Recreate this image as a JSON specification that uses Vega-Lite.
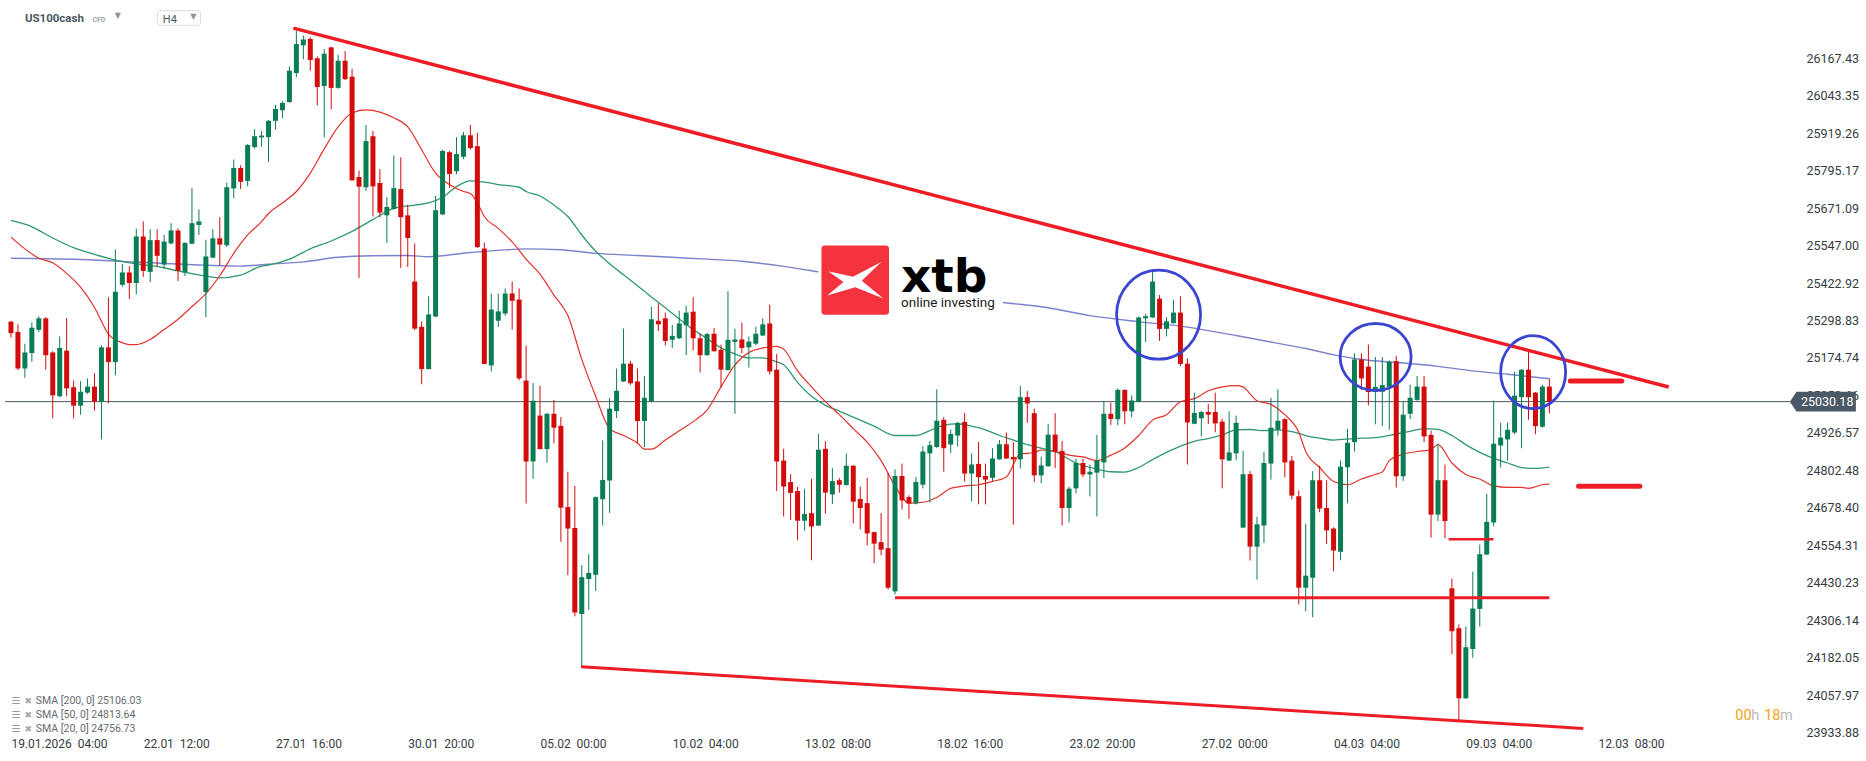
{
"$schema":"https://vega.github.io/schema/vega-lite/v6.json",
"width":1800,"height":735,
"autosize":{"type":"none"},
"padding":{"left":0,"top":0,"right":66,"bottom":26},
"background":"#ffffff",
"config":{"view":{"stroke":null},"font":"Roboto"},
"resolve":{"axis":{"x":"independent","y":"independent"}},
"datasets":{
"candles":[
{"i":0,"o":25295,"h":25297,"l":25242,"c":25257},{"i":1,"o":25261,"h":25286,"l":25135,"c":25140},{"i":2,"o":25140,"h":25222,"l":25109,"c":25193},{"i":3,"o":25191,"h":25292,"l":25162,"c":25275},{"i":4,"o":25268,"h":25313,"l":25261,"c":25306},{"i":5,"o":25306,"h":25310,"l":25136,"c":25184},{"i":6,"o":25193,"h":25197,"l":24975,"c":25051},{"i":7,"o":25048,"h":25246,"l":25045,"c":25208},{"i":8,"o":25199,"h":25307,"l":25048,"c":25074},{"i":9,"o":25078,"h":25100,"l":24975,"c":25017},
{"i":10,"o":25017,"h":25098,"l":24987,"c":25063},{"i":11,"o":25060,"h":25107,"l":25056,"c":25080},{"i":12,"o":25080,"h":25124,"l":25001,"c":25030},{"i":13,"o":25030,"h":25217,"l":24905,"c":25210},{"i":14,"o":25210,"h":25376,"l":25025,"c":25161},{"i":15,"o":25161,"h":25534,"l":25117,"c":25394},{"i":16,"o":25417,"h":25486,"l":25411,"c":25458},{"i":17,"o":25458,"h":25479,"l":25370,"c":25423},{"i":18,"o":25423,"h":25603,"l":25386,"c":25577},{"i":19,"o":25577,"h":25627,"l":25443,"c":25463},
{"i":20,"o":25460,"h":25601,"l":25426,"c":25565},{"i":21,"o":25565,"h":25601,"l":25478,"c":25513},{"i":22,"o":25484,"h":25582,"l":25470,"c":25560},{"i":23,"o":25554,"h":25621,"l":25551,"c":25597},{"i":24,"o":25597,"h":25604,"l":25429,"c":25463},{"i":25,"o":25458,"h":25557,"l":25446,"c":25556},{"i":26,"o":25553,"h":25737,"l":25551,"c":25621},{"i":27,"o":25615,"h":25667,"l":25582,"c":25627},{"i":28,"o":25393,"h":25566,"l":25310,"c":25511},{"i":29,"o":25507,"h":25601,"l":25505,"c":25571},
{"i":30,"o":25571,"h":25641,"l":25482,"c":25550},{"i":31,"o":25548,"h":25755,"l":25542,"c":25740},{"i":32,"o":25736,"h":25832,"l":25704,"c":25804},{"i":33,"o":25804,"h":25813,"l":25734,"c":25758},{"i":34,"o":25761,"h":25883,"l":25743,"c":25880},{"i":35,"o":25873,"h":25932,"l":25868,"c":25909},{"i":36,"o":25905,"h":25926,"l":25874,"c":25911},{"i":37,"o":25906,"h":25963,"l":25824,"c":25960},{"i":38,"o":25960,"h":26013,"l":25931,"c":25999},{"i":39,"o":25995,"h":26025,"l":25969,"c":26019},
{"i":40,"o":26022,"h":26140,"l":26020,"c":26126},{"i":41,"o":26118,"h":26258,"l":26104,"c":26214},{"i":42,"o":26210,"h":26242,"l":26164,"c":26229},{"i":43,"o":26231,"h":26237,"l":26126,"c":26161},{"i":44,"o":26167,"h":26173,"l":26011,"c":26072},{"i":45,"o":26075,"h":26197,"l":25905,"c":26182},{"i":46,"o":26203,"h":26205,"l":25998,"c":26069},{"i":47,"o":26069,"h":26179,"l":26066,"c":26159},{"i":48,"o":26159,"h":26191,"l":26095,"c":26098},{"i":49,"o":26106,"h":26132,"l":25762,"c":25763},
{"i":50,"o":25774,"h":25795,"l":25440,"c":25742},{"i":51,"o":25740,"h":25946,"l":25728,"c":25893},{"i":52,"o":25909,"h":25926,"l":25643,"c":25743},{"i":53,"o":25754,"h":25800,"l":25640,"c":25656},{"i":54,"o":25647,"h":25707,"l":25556,"c":25675},{"i":55,"o":25668,"h":25845,"l":25666,"c":25737},{"i":56,"o":25734,"h":25839,"l":25473,"c":25641},{"i":57,"o":25647,"h":25682,"l":25476,"c":25572},{"i":58,"o":25428,"h":25554,"l":25267,"c":25272},{"i":59,"o":25278,"h":25295,"l":25088,"c":25138},
{"i":60,"o":25138,"h":25379,"l":25137,"c":25319},{"i":61,"o":25312,"h":25711,"l":25310,"c":25664},{"i":62,"o":25650,"h":25864,"l":25649,"c":25860},{"i":63,"o":25856,"h":25860,"l":25738,"c":25784},{"i":64,"o":25793,"h":25906,"l":25783,"c":25850},{"i":65,"o":25841,"h":25923,"l":25833,"c":25912},{"i":66,"o":25912,"h":25946,"l":25865,"c":25870},{"i":67,"o":25876,"h":25920,"l":25539,"c":25542},{"i":68,"o":25537,"h":25557,"l":25154,"c":25155},{"i":69,"o":25150,"h":25388,"l":25130,"c":25335},
{"i":70,"o":25298,"h":25388,"l":25277,"c":25329},{"i":71,"o":25322,"h":25405,"l":25315,"c":25388},{"i":72,"o":25388,"h":25428,"l":25269,"c":25364},{"i":73,"o":25368,"h":25405,"l":25101,"c":25107},{"i":74,"o":25100,"h":25216,"l":24693,"c":24832},{"i":75,"o":24832,"h":25092,"l":24775,"c":25033},{"i":76,"o":24984,"h":25083,"l":24872,"c":24873},{"i":77,"o":24873,"h":24992,"l":24828,"c":24990},{"i":78,"o":24990,"h":25036,"l":24892,"c":24944},{"i":79,"o":24950,"h":24979,"l":24566,"c":24679},
{"i":80,"o":24681,"h":24798,"l":24456,"c":24610},{"i":81,"o":24612,"h":24751,"l":24319,"c":24332},{"i":82,"o":24327,"h":24489,"l":24152,"c":24449},{"i":83,"o":24443,"h":24525,"l":24341,"c":24463},{"i":84,"o":24457,"h":24716,"l":24403,"c":24714},{"i":85,"o":24707,"h":24902,"l":24620,"c":24771},{"i":86,"o":24769,"h":25043,"l":24662,"c":25007},{"i":87,"o":24999,"h":25140,"l":24976,"c":25066},{"i":88,"o":25097,"h":25272,"l":25096,"c":25156},{"i":89,"o":25156,"h":25165,"l":25086,"c":25091},
{"i":90,"o":25097,"h":25140,"l":24892,"c":24966},{"i":91,"o":24966,"h":25115,"l":24879,"c":25043},{"i":92,"o":25030,"h":25344,"l":25028,"c":25303},{"i":93,"o":25298,"h":25356,"l":25264,"c":25286},{"i":94,"o":25306,"h":25325,"l":25216,"c":25231},{"i":95,"o":25235,"h":25284,"l":25208,"c":25248},{"i":96,"o":25240,"h":25331,"l":25237,"c":25289},{"i":97,"o":25283,"h":25348,"l":25184,"c":25325},{"i":98,"o":25328,"h":25376,"l":25200,"c":25240},{"i":99,"o":25240,"h":25255,"l":25127,"c":25184},
{"i":100,"o":25184,"h":25258,"l":25182,"c":25254},{"i":101,"o":25255,"h":25274,"l":25196,"c":25197},{"i":102,"o":25202,"h":25219,"l":25078,"c":25136},{"i":103,"o":25135,"h":25396,"l":25133,"c":25235},{"i":104,"o":25228,"h":25272,"l":24990,"c":25236},{"i":105,"o":25236,"h":25292,"l":25190,"c":25208},{"i":106,"o":25210,"h":25246,"l":25143,"c":25229},{"i":107,"o":25222,"h":25278,"l":25217,"c":25255},{"i":108,"o":25249,"h":25306,"l":25248,"c":25286},{"i":109,"o":25289,"h":25351,"l":25120,"c":25130},
{"i":110,"o":25136,"h":25188,"l":24734,"c":24832},{"i":111,"o":24835,"h":24874,"l":24650,"c":24749},{"i":112,"o":24764,"h":24790,"l":24638,"c":24728},{"i":113,"o":24734,"h":24748,"l":24571,"c":24636},{"i":114,"o":24636,"h":24742,"l":24603,"c":24658},{"i":115,"o":24661,"h":24775,"l":24505,"c":24617},{"i":116,"o":24620,"h":24923,"l":24618,"c":24871},{"i":117,"o":24874,"h":24899,"l":24659,"c":24729},{"i":118,"o":24723,"h":24810,"l":24691,"c":24767},{"i":119,"o":24770,"h":24777,"l":24729,"c":24755},
{"i":120,"o":24754,"h":24859,"l":24752,"c":24818},{"i":121,"o":24818,"h":24820,"l":24627,"c":24699},{"i":122,"o":24708,"h":24749,"l":24607,"c":24678},{"i":123,"o":24694,"h":24778,"l":24554,"c":24594},{"i":124,"o":24598,"h":24600,"l":24495,"c":24560},{"i":125,"o":24565,"h":24661,"l":24522,"c":24540},{"i":126,"o":24545,"h":24795,"l":24408,"c":24414},{"i":127,"o":24402,"h":24806,"l":24392,"c":24784},{"i":128,"o":24784,"h":24825,"l":24673,"c":24703},{"i":129,"o":24714,"h":24720,"l":24642,"c":24693},
{"i":130,"o":24693,"h":24781,"l":24690,"c":24764},{"i":131,"o":24755,"h":24883,"l":24743,"c":24865},{"i":132,"o":24859,"h":24900,"l":24696,"c":24886},{"i":133,"o":24880,"h":25071,"l":24876,"c":24967},{"i":134,"o":24970,"h":24979,"l":24798,"c":24876},{"i":135,"o":24888,"h":24938,"l":24860,"c":24923},{"i":136,"o":24918,"h":24963,"l":24882,"c":24960},{"i":137,"o":24963,"h":24993,"l":24766,"c":24792},{"i":138,"o":24792,"h":24859,"l":24700,"c":24822},{"i":139,"o":24824,"h":24897,"l":24690,"c":24780},
{"i":140,"o":24784,"h":24825,"l":24690,"c":24772},{"i":141,"o":24778,"h":24876,"l":24767,"c":24842},{"i":142,"o":24839,"h":24903,"l":24838,"c":24889},{"i":143,"o":24889,"h":24928,"l":24840,"c":24842},{"i":144,"o":24847,"h":24896,"l":24623,"c":24839},{"i":145,"o":24839,"h":25083,"l":24809,"c":25045},{"i":146,"o":25045,"h":25065,"l":24960,"c":25024},{"i":147,"o":24992,"h":25007,"l":24764,"c":24786},{"i":148,"o":24786,"h":24848,"l":24760,"c":24819},{"i":149,"o":24816,"h":24957,"l":24815,"c":24921},
{"i":150,"o":24921,"h":24992,"l":24810,"c":24864},{"i":151,"o":24867,"h":24900,"l":24620,"c":24678},{"i":152,"o":24678,"h":24748,"l":24630,"c":24742},{"i":153,"o":24743,"h":24841,"l":24726,"c":24827},{"i":154,"o":24827,"h":24841,"l":24780,"c":24789},{"i":155,"o":24789,"h":24822,"l":24716,"c":24798},{"i":156,"o":24795,"h":24920,"l":24650,"c":24835},{"i":157,"o":24829,"h":25033,"l":24777,"c":24990},{"i":158,"o":24990,"h":25027,"l":24953,"c":24973},{"i":159,"o":24972,"h":25074,"l":24952,"c":25069},
{"i":160,"o":25069,"h":25071,"l":24955,"c":24998},{"i":161,"o":24998,"h":25051,"l":24978,"c":25034},{"i":162,"o":25030,"h":25312,"l":25028,"c":25309},{"i":163,"o":25306,"h":25322,"l":25228,"c":25313},{"i":164,"o":25309,"h":25460,"l":25307,"c":25428},{"i":165,"o":25371,"h":25383,"l":25231,"c":25271},{"i":166,"o":25271,"h":25310,"l":25246,"c":25296},{"i":167,"o":25290,"h":25367,"l":25289,"c":25325},{"i":168,"o":25325,"h":25379,"l":25147,"c":25155},{"i":169,"o":25156,"h":25173,"l":24822,"c":24961},
{"i":170,"o":24957,"h":25060,"l":24955,"c":24993},{"i":171,"o":24975,"h":24999,"l":24915,"c":24996},{"i":172,"o":24996,"h":25022,"l":24956,"c":24987},{"i":173,"o":24996,"h":25060,"l":24929,"c":24958},{"i":174,"o":24964,"h":24973,"l":24743,"c":24839},{"i":175,"o":24835,"h":24998,"l":24833,"c":24862},{"i":176,"o":24859,"h":24984,"l":24836,"c":24960},{"i":177,"o":24613,"h":24867,"l":24612,"c":24790},{"i":178,"o":24790,"h":24800,"l":24504,"c":24550},{"i":179,"o":24550,"h":24649,"l":24441,"c":24624},
{"i":180,"o":24620,"h":24864,"l":24562,"c":24827},{"i":181,"o":24825,"h":25043,"l":24772,"c":24944},{"i":182,"o":24937,"h":25071,"l":24918,"c":24967},{"i":183,"o":24972,"h":24976,"l":24780,"c":24829},{"i":184,"o":24835,"h":24850,"l":24707,"c":24719},{"i":185,"o":24717,"h":24736,"l":24359,"c":24414},{"i":186,"o":24414,"h":24626,"l":24336,"c":24454},{"i":187,"o":24447,"h":24800,"l":24316,"c":24770},{"i":188,"o":24770,"h":24818,"l":24664,"c":24676},{"i":189,"o":24678,"h":24770,"l":24559,"c":24604},
{"i":190,"o":24610,"h":24614,"l":24469,"c":24537},{"i":191,"o":24533,"h":24835,"l":24505,"c":24815},{"i":192,"o":24813,"h":24940,"l":24693,"c":24894},{"i":193,"o":24896,"h":25190,"l":24865,"c":25170},{"i":194,"o":25170,"h":25190,"l":25069,"c":25107},{"i":195,"o":25146,"h":25219,"l":25018,"c":25062},{"i":196,"o":25062,"h":25178,"l":24955,"c":25079},{"i":197,"o":25063,"h":25178,"l":24949,"c":25085},{"i":198,"o":25079,"h":25167,"l":24937,"c":25162},{"i":199,"o":25164,"h":25181,"l":24746,"c":24783},
{"i":200,"o":24783,"h":25030,"l":24768,"c":24987},{"i":201,"o":24990,"h":25086,"l":24972,"c":25043},{"i":202,"o":25036,"h":25115,"l":25033,"c":25080},{"i":203,"o":25080,"h":25115,"l":24896,"c":24915},{"i":204,"o":24920,"h":24934,"l":24580,"c":24656},{"i":205,"o":24656,"h":24891,"l":24635,"c":24770},{"i":206,"o":24770,"h":24822,"l":24578,"c":24635},{"i":207,"o":24412,"h":24444,"l":24194,"c":24270},{"i":208,"o":24280,"h":24292,"l":23969,"c":24048},{"i":209,"o":24048,"h":24286,"l":24046,"c":24217},
{"i":210,"o":24211,"h":24467,"l":24182,"c":24345},{"i":211,"o":24344,"h":24557,"l":24286,"c":24525},{"i":212,"o":24524,"h":24725,"l":24522,"c":24632},{"i":213,"o":24630,"h":25034,"l":24617,"c":24891},{"i":214,"o":24885,"h":24960,"l":24812,"c":24911},{"i":215,"o":24905,"h":24961,"l":24835,"c":24937},{"i":216,"o":24928,"h":25129,"l":24922,"c":25050},{"i":217,"o":25045,"h":25138,"l":24876,"c":25136},{"i":218,"o":25136,"h":25204,"l":24970,"c":25045},{"i":219,"o":25060,"h":25062,"l":24922,"c":24949},
{"i":220,"o":24947,"h":25086,"l":24944,"c":25080},{"i":221,"o":25080,"h":25106,"l":24992,"c":25030.18}
],
"sma200":[
{"i":0,"v":25505},{"i":10,"v":25501},{"i":20,"v":25490},{"i":28,"v":25482},{"i":33,"v":25479},{"i":37,"v":25485},{"i":42,"v":25493},{"i":47,"v":25508},{"i":52,"v":25513},{"i":57,"v":25514},{"i":60,"v":25510},{"i":62,"v":25513},{"i":66,"v":25524},{"i":70,"v":25531},{"i":74,"v":25536},{"i":79,"v":25533},{"i":84,"v":25521},{"i":90,"v":25514},{"i":95,"v":25508},{"i":100,"v":25502},{"i":105,"v":25495},{"i":111,"v":25478},{"i":116,"v":25460},{"i":126,"v":25421},{"i":135,"v":25383},{"i":142,"v":25360},{"i":149,"v":25341},{"i":155,"v":25315},{"i":162,"v":25295},{"i":169,"v":25277},{"i":176,"v":25249},{"i":183,"v":25219},{"i":186,"v":25206},{"i":190,"v":25185},{"i":195,"v":25167},{"i":200,"v":25158},{"i":205,"v":25147},{"i":210,"v":25132},{"i":215,"v":25121},{"i":221,"v":25106.03}
],
"sma50":[
{"i":0,"v":25630},{"i":3,"v":25609},{"i":6,"v":25572},{"i":9,"v":25540},{"i":12,"v":25518},{"i":15,"v":25499},{"i":18,"v":25486},{"i":21,"v":25478},{"i":24,"v":25463},{"i":27,"v":25450},{"i":30,"v":25440},{"i":33,"v":25449},{"i":36,"v":25479},{"i":37,"v":25482},{"i":40,"v":25502},{"i":43,"v":25536},{"i":46,"v":25562},{"i":49,"v":25594},{"i":52,"v":25633},{"i":55,"v":25670},{"i":58,"v":25681},{"i":60,"v":25688},{"i":62,"v":25707},{"i":64,"v":25742},{"i":66,"v":25761},{"i":68,"v":25757},{"i":70,"v":25749},{"i":73,"v":25740},{"i":74,"v":25726},{"i":76,"v":25711},{"i":78,"v":25681},{"i":80,"v":25643},{"i":82,"v":25582},{"i":84,"v":25528},{"i":86,"v":25487},{"i":88,"v":25450},{"i":90,"v":25414},{"i":92,"v":25377},{"i":94,"v":25341},{"i":96,"v":25304},{"i":98,"v":25269},{"i":100,"v":25239},{"i":102,"v":25208},{"i":104,"v":25188},{"i":106,"v":25175},{"i":108,"v":25175},{"i":110,"v":25162},{"i":111,"v":25152},{"i":113,"v":25094},{"i":115,"v":25048},{"i":117,"v":25018},{"i":119,"v":24999},{"i":121,"v":24979},{"i":124,"v":24949},{"i":127,"v":24918},{"i":130,"v":24918},{"i":132,"v":24934},{"i":134,"v":24952},{"i":136,"v":24957},{"i":138,"v":24949},{"i":140,"v":24937},{"i":142,"v":24918},{"i":144,"v":24903},{"i":146,"v":24888},{"i":148,"v":24876},{"i":150,"v":24865},{"i":153,"v":24827},{"i":156,"v":24807},{"i":158,"v":24798},{"i":160,"v":24797},{"i":162,"v":24812},{"i":164,"v":24838},{"i":166,"v":24862},{"i":168,"v":24883},{"i":170,"v":24899},{"i":172,"v":24908},{"i":174,"v":24920},{"i":176,"v":24937},{"i":178,"v":24938},{"i":180,"v":24934},{"i":182,"v":24937},{"i":184,"v":24931},{"i":186,"v":24918},{"i":188,"v":24909},{"i":190,"v":24903},{"i":193,"v":24908},{"i":196,"v":24911},{"i":199,"v":24923},{"i":201,"v":24932},{"i":203,"v":24941},{"i":205,"v":24938},{"i":207,"v":24918},{"i":209,"v":24888},{"i":211,"v":24862},{"i":213,"v":24842},{"i":215,"v":24827},{"i":217,"v":24812},{"i":219,"v":24809},{"i":221,"v":24813.64}
],
"sma20":[
{"i":0,"v":25575},{"i":2,"v":25536},{"i":4,"v":25505},{"i":6,"v":25490},{"i":8,"v":25455},{"i":10,"v":25409},{"i":12,"v":25342},{"i":14,"v":25254},{"i":16,"v":25225},{"i":17,"v":25219},{"i":18,"v":25219},{"i":20,"v":25236},{"i":22,"v":25269},{"i":24,"v":25303},{"i":26,"v":25345},{"i":28,"v":25388},{"i":30,"v":25447},{"i":32,"v":25521},{"i":34,"v":25582},{"i":36,"v":25626},{"i":37,"v":25653},{"i":39,"v":25688},{"i":41,"v":25726},{"i":43,"v":25787},{"i":45,"v":25867},{"i":47,"v":25940},{"i":49,"v":25986},{"i":51,"v":25996},{"i":53,"v":25989},{"i":55,"v":25970},{"i":57,"v":25940},{"i":59,"v":25864},{"i":61,"v":25787},{"i":63,"v":25749},{"i":65,"v":25726},{"i":66,"v":25719},{"i":67,"v":25688},{"i":68,"v":25643},{"i":70,"v":25604},{"i":72,"v":25559},{"i":74,"v":25502},{"i":76,"v":25452},{"i":78,"v":25383},{"i":80,"v":25315},{"i":82,"v":25170},{"i":84,"v":25048},{"i":86,"v":24941},{"i":88,"v":24918},{"i":90,"v":24893},{"i":91,"v":24873},{"i":92,"v":24873},{"i":94,"v":24903},{"i":96,"v":24934},{"i":98,"v":24964},{"i":100,"v":25002},{"i":102,"v":25079},{"i":104,"v":25152},{"i":106,"v":25193},{"i":108,"v":25208},{"i":110,"v":25213},{"i":111,"v":25204},{"i":113,"v":25132},{"i":115,"v":25079},{"i":117,"v":25030},{"i":119,"v":24987},{"i":121,"v":24941},{"i":123,"v":24896},{"i":125,"v":24835},{"i":127,"v":24751},{"i":129,"v":24694},{"i":131,"v":24697},{"i":133,"v":24713},{"i":135,"v":24743},{"i":137,"v":24751},{"i":139,"v":24755},{"i":141,"v":24766},{"i":143,"v":24781},{"i":145,"v":24857},{"i":147,"v":24861},{"i":148,"v":24870},{"i":150,"v":24865},{"i":152,"v":24853},{"i":154,"v":24847},{"i":156,"v":24835},{"i":158,"v":24853},{"i":160,"v":24877},{"i":162,"v":24918},{"i":164,"v":24969},{"i":166,"v":24987},{"i":168,"v":25030},{"i":170,"v":25040},{"i":172,"v":25066},{"i":174,"v":25079},{"i":176,"v":25083},{"i":177,"v":25079},{"i":178,"v":25056},{"i":179,"v":25033},{"i":181,"v":25021},{"i":183,"v":24987},{"i":185,"v":24929},{"i":186,"v":24865},{"i":188,"v":24812},{"i":190,"v":24766},{"i":192,"v":24755},{"i":194,"v":24774},{"i":196,"v":24789},{"i":197,"v":24797},{"i":198,"v":24835},{"i":200,"v":24856},{"i":202,"v":24865},{"i":204,"v":24871},{"i":205,"v":24888},{"i":207,"v":24827},{"i":209,"v":24789},{"i":211,"v":24774},{"i":213,"v":24751},{"i":215,"v":24746},{"i":217,"v":24746},{"i":218,"v":24743},{"i":220,"v":24755},{"i":221,"v":24756.73}
]
},
"layer":[
{"data":{"values":[{"i":-0.857,"i2":255.57,"p":25030.18}]},
 "mark":{"type":"rule","color":"#4b5865","strokeWidth":1},
 "encoding":{
  "x":{"field":"i","type":"quantitative","scale":{"domain":[-0.857142857,256.285714286],"nice":false,"zero":false},
   "axis":{"orient":"bottom","values":[0,19,38,57,76,95,114,133,152,171,190,209,228],"labelExpr":"['19.01.2026\u00a0\u00a004:00','22.01\u00a0\u00a012:00','27.01\u00a0\u00a016:00','30.01\u00a0\u00a020:00','05.02\u00a0\u00a000:00','10.02\u00a0\u00a004:00','13.02\u00a0\u00a008:00','18.02\u00a0\u00a016:00','23.02\u00a0\u00a020:00','27.02\u00a0\u00a000:00','04.03\u00a0\u00a004:00','09.03\u00a0\u00a004:00','12.03\u00a0\u00a008:00'][round(datum.value/19)]","labelAlign":"left","labelBaseline":"top","labelFont":"Roboto","labelFontSize":12,"labelColor":"#363c42","labelPadding":3,"domain":false,"ticks":false,"tickSize":0,"grid":false,"title":null,"labelOverlap":false,"labelFlush":false,"labelBound":false,"zindex":1}},
  "x2":{"field":"i2"},
  "y":{"field":"p","type":"quantitative","scale":{"domain":[23926.4,26360],"nice":false,"zero":false},
   "axis":{"orient":"right","values":[23933.88,24057.97,24182.05,24306.14,24430.23,24554.31,24678.40,24802.48,24926.57,25050.66,25174.74,25298.83,25422.92,25547.00,25671.09,25795.17,25919.26,26043.35,26167.43],"format":".2f","labelAlign":"left","labelBaseline":"middle","labelFont":"Roboto","labelFontSize":12.5,"labelColor":"#363c42","labelPadding":6,"domain":false,"ticks":false,"tickSize":0,"grid":false,"title":null,"labelOverlap":false,"labelFlush":false,"labelBound":false,"zindex":0}}
 }},
{"data":{"name":"sma200"},
 "mark":{"type":"line","color":"#6d74c9","strokeWidth":1.4,"opacity":0.9,"interpolate":"monotone"},
 "encoding":{"x":{"field":"i","type":"quantitative","scale":{"domain":[-0.857142857,256.285714286],"nice":false,"zero":false},"axis":null},
  "y":{"field":"v","type":"quantitative","scale":{"domain":[23926.4,26360],"nice":false,"zero":false},"axis":null}}},
{"data":{"name":"sma50"},
 "mark":{"type":"line","color":"#2f9a6f","strokeWidth":1.3,"interpolate":"monotone"},
 "encoding":{"x":{"field":"i","type":"quantitative","scale":{"domain":[-0.857142857,256.285714286],"nice":false,"zero":false},"axis":null},
  "y":{"field":"v","type":"quantitative","scale":{"domain":[23926.4,26360],"nice":false,"zero":false},"axis":null}}},
{"data":{"name":"sma20"},
 "mark":{"type":"line","color":"#e3322c","strokeWidth":1.2,"interpolate":"monotone"},
 "encoding":{"x":{"field":"i","type":"quantitative","scale":{"domain":[-0.857142857,256.285714286],"nice":false,"zero":false},"axis":null},
  "y":{"field":"v","type":"quantitative","scale":{"domain":[23926.4,26360],"nice":false,"zero":false},"axis":null}}},
{"data":{"values":[{"i":116.0,"i2":142.5,"p":25555,"p2":25310}]},
 "mark":{"type":"rect","fill":"#ffffff"},
 "encoding":{"x":{"field":"i","type":"quantitative","scale":{"domain":[-0.857142857,256.285714286],"nice":false,"zero":false},"axis":null},"x2":{"field":"i2"},
  "y":{"field":"p","type":"quantitative","scale":{"domain":[23926.4,26360],"nice":false,"zero":false},"axis":null},"y2":{"field":"p2"}}},
{"data":{"values":[{"i":116.43,"i2":126.14,"p":25546.8,"p2":25318.0}]},
 "mark":{"type":"rect","fill":"#f5333f","cornerRadius":3},
 "encoding":{"x":{"field":"i","type":"quantitative","scale":{"domain":[-0.857142857,256.285714286],"nice":false,"zero":false},"axis":null},"x2":{"field":"i2"},
  "y":{"field":"p","type":"quantitative","scale":{"domain":[23926.4,26360],"nice":false,"zero":false},"axis":null},"y2":{"field":"p2"}}},
{"data":{"values":[{"i":121.29,"p":25432.3}]},
 "mark":{"type":"point","shape":"M-0.92,-0.3L-0.08,-0.12L0.88,-0.62L0.22,0.02L0.95,0.62L0.0,0.24L-0.95,0.52L-0.4,0.06Z","size":3481,"filled":true,"fill":"#ffffff","stroke":null,"opacity":1},
 "encoding":{"x":{"field":"i","type":"quantitative","scale":{"domain":[-0.857142857,256.285714286],"nice":false,"zero":false},"axis":null},
  "y":{"field":"p","type":"quantitative","scale":{"domain":[23926.4,26360],"nice":false,"zero":false},"axis":null}}},
{"data":{"values":[{"i":127.86,"p":25394.5,"t":"xtb"}]},
 "mark":{"type":"text","font":"DejaVu Sans","fontWeight":"bold","fontSize":47,"align":"left","baseline":"alphabetic","color":"#000000"},
 "encoding":{"x":{"field":"i","type":"quantitative","scale":{"domain":[-0.857142857,256.285714286],"nice":false,"zero":false},"axis":null},
  "y":{"field":"p","type":"quantitative","scale":{"domain":[23926.4,26360],"nice":false,"zero":false},"axis":null},"text":{"field":"t"}}},
{"data":{"values":[{"i":127.86,"p":25342,"t":"online investing"}]},
 "mark":{"type":"text","font":"Roboto","fontSize":13.5,"align":"left","baseline":"alphabetic","color":"#1a1a1a"},
 "encoding":{"x":{"field":"i","type":"quantitative","scale":{"domain":[-0.857142857,256.285714286],"nice":false,"zero":false},"axis":null},
  "y":{"field":"p","type":"quantitative","scale":{"domain":[23926.4,26360],"nice":false,"zero":false},"axis":null},"text":{"field":"t"}}},
{"data":{"name":"candles"},
 "mark":{"type":"rule","strokeWidth":1},
 "encoding":{"x":{"field":"i","type":"quantitative","scale":{"domain":[-0.857142857,256.285714286],"nice":false,"zero":false},"axis":null},
  "y":{"field":"l","type":"quantitative","scale":{"domain":[23926.4,26360],"nice":false,"zero":false},"axis":null},"y2":{"field":"h"},
  "color":{"condition":{"test":"datum.c >= datum.o","value":"#0a7d55"},"value":"#d20b0b"}}},
{"data":{"name":"candles"},
 "mark":{"type":"bar","size":5},
 "encoding":{"x":{"field":"i","type":"quantitative","scale":{"domain":[-0.857142857,256.285714286],"nice":false,"zero":false},"axis":null},
  "y":{"field":"o","type":"quantitative","scale":{"domain":[23926.4,26360],"nice":false,"zero":false},"axis":null},"y2":{"field":"c"},
  "color":{"condition":{"test":"datum.c >= datum.o","value":"#0a7d55"},"value":"#d20b0b"}}},
{"data":{"values":[{"i":40.57,"p":26267,"i2":238.14,"p2":25078.6}]},
 "mark":{"type":"rule","color":"#ee1c25","strokeWidth":3.5},
 "encoding":{"x":{"field":"i","type":"quantitative","scale":{"domain":[-0.857142857,256.285714286],"nice":false,"zero":false},"axis":null},"x2":{"field":"i2"},
  "y":{"field":"p","type":"quantitative","scale":{"domain":[23926.4,26360],"nice":false,"zero":false},"axis":null},"y2":{"field":"p2"}}},
{"data":{"values":[{"i":81.9,"p":24152,"i2":225.86,"p2":23948},{"i":127.0,"p":24381,"i2":221.0,"p2":24381}]},
 "mark":{"type":"rule","color":"#ee1c25","strokeWidth":3},
 "encoding":{"x":{"field":"i","type":"quantitative","scale":{"domain":[-0.857142857,256.285714286],"nice":false,"zero":false},"axis":null},"x2":{"field":"i2"},
  "y":{"field":"p","type":"quantitative","scale":{"domain":[23926.4,26360],"nice":false,"zero":false},"axis":null},"y2":{"field":"p2"}}},
{"data":{"values":[{"i":206.53,"p":24574.4,"i2":212.96,"p2":24574.4}]},
 "mark":{"type":"rule","color":"#ee1c25","strokeWidth":2.5},
 "encoding":{"x":{"field":"i","type":"quantitative","scale":{"domain":[-0.857142857,256.285714286],"nice":false,"zero":false},"axis":null},"x2":{"field":"i2"},
  "y":{"field":"p","type":"quantitative","scale":{"domain":[23926.4,26360],"nice":false,"zero":false},"axis":null},"y2":{"field":"p2"}}},
{"data":{"values":[{"i":224.0,"p":25098.5,"i2":231.4,"p2":25098.5},{"i":225.2,"p":24749.9,"i2":234.0,"p2":24749.9}]},
 "mark":{"type":"rule","color":"#ee1c25","strokeWidth":5,"strokeCap":"round"},
 "encoding":{"x":{"field":"i","type":"quantitative","scale":{"domain":[-0.857142857,256.285714286],"nice":false,"zero":false},"axis":null},"x2":{"field":"i2"},
  "y":{"field":"p","type":"quantitative","scale":{"domain":[23926.4,26360],"nice":false,"zero":false},"axis":null},"y2":{"field":"p2"}}},
{"data":{"values":[{"i":164.86,"p":25318}]},
 "mark":{"type":"point","shape":"M-0.944,0A0.944,1,0,1,0,0.944,0A0.944,1,0,1,0,-0.944,0Z","size":7921,"filled":false,"stroke":"#3c45d0","strokeWidth":2.8,"opacity":1},
 "encoding":{"x":{"field":"i","type":"quantitative","scale":{"domain":[-0.857142857,256.285714286],"nice":false,"zero":false},"axis":null},
  "y":{"field":"p","type":"quantitative","scale":{"domain":[23926.4,26360],"nice":false,"zero":false},"axis":null}}},
{"data":{"values":[{"i":196.04,"p":25178}]},
 "mark":{"type":"point","shape":"M-1,0A1,0.944,0,1,0,1,0A1,0.944,0,1,0,-1,0Z","size":5041,"filled":false,"stroke":"#3c45d0","strokeWidth":2.8,"opacity":1},
 "encoding":{"x":{"field":"i","type":"quantitative","scale":{"domain":[-0.857142857,256.285714286],"nice":false,"zero":false},"axis":null},
  "y":{"field":"p","type":"quantitative","scale":{"domain":[23926.4,26360],"nice":false,"zero":false},"axis":null}}},
{"data":{"values":[{"i":218.67,"p":25127.6}]},
 "mark":{"type":"point","shape":"M-0.89,0A0.89,1,0,1,0,0.89,0A0.89,1,0,1,0,-0.89,0Z","size":5329,"filled":false,"stroke":"#3c45d0","strokeWidth":2.8,"opacity":1},
 "encoding":{"x":{"field":"i","type":"quantitative","scale":{"domain":[-0.857142857,256.285714286],"nice":false,"zero":false},"axis":null},
  "y":{"field":"p","type":"quantitative","scale":{"domain":[23926.4,26360],"nice":false,"zero":false},"axis":null}}},
{"data":{"values":[{"i":260.29,"p":25030.18}]},
 "mark":{"type":"point","shape":"M-1,0L-0.8,-0.3L1,-0.3L1,0.3L-0.8,0.3Z","size":4356,"filled":true,"fill":"#4b5865","stroke":null,"opacity":1},
 "encoding":{"x":{"field":"i","type":"quantitative","scale":{"domain":[-0.857142857,256.285714286],"nice":false,"zero":false},"axis":null},
  "y":{"field":"p","type":"quantitative","scale":{"domain":[23926.4,26360],"nice":false,"zero":false},"axis":null}}},
{"data":{"values":[{"i":257.14,"p":25030.18,"t":"25030.18"}]},
 "mark":{"type":"text","font":"Roboto","fontSize":12.5,"align":"left","baseline":"middle","color":"#ffffff"},
 "encoding":{"x":{"field":"i","type":"quantitative","scale":{"domain":[-0.857142857,256.285714286],"nice":false,"zero":false},"axis":null},
  "y":{"field":"p","type":"quantitative","scale":{"domain":[23926.4,26360],"nice":false,"zero":false},"axis":null},"text":{"field":"t"}}},
{"data":{"values":[{"i":21.04,"i2":27.24,"p":26324.6,"p2":26276.2}]},
 "mark":{"type":"rect","fill":"#ffffff","stroke":"#d9dde2","strokeWidth":1,"cornerRadius":2},
 "encoding":{"x":{"field":"i","type":"quantitative","scale":{"domain":[-0.857142857,256.285714286],"nice":false,"zero":false},"axis":null},"x2":{"field":"i2"},
  "y":{"field":"p","type":"quantitative","scale":{"domain":[23926.4,26360],"nice":false,"zero":false},"axis":null},"y2":{"field":"p2"}}},
{"data":{"values":[{"i":2.0,"p":26298.1,"t":"US100cash"}]},
 "mark":{"type":"text","font":"Roboto","fontWeight":"bold","fontSize":11.5,"align":"left","baseline":"middle","color":"#4a5562"},
 "encoding":{"x":{"field":"i","type":"quantitative","scale":{"domain":[-0.857142857,256.285714286],"nice":false,"zero":false},"axis":null},
  "y":{"field":"p","type":"quantitative","scale":{"domain":[23926.4,26360],"nice":false,"zero":false},"axis":null},"text":{"field":"t"}}},
{"data":{"values":[{"i":11.7,"p":26295.4,"t":"CFD"}]},
 "mark":{"type":"text","font":"Roboto","fontWeight":"bold","fontSize":7,"align":"left","baseline":"middle","color":"#a0a6ad"},
 "encoding":{"x":{"field":"i","type":"quantitative","scale":{"domain":[-0.857142857,256.285714286],"nice":false,"zero":false},"axis":null},
  "y":{"field":"p","type":"quantitative","scale":{"domain":[23926.4,26360],"nice":false,"zero":false},"axis":null},"text":{"field":"t"}}},
{"data":{"values":[{"i":21.81,"p":26294.8,"t":"H4"}]},
 "mark":{"type":"text","font":"Roboto","fontSize":11,"align":"left","baseline":"middle","color":"#4a5562"},
 "encoding":{"x":{"field":"i","type":"quantitative","scale":{"domain":[-0.857142857,256.285714286],"nice":false,"zero":false},"axis":null},
  "y":{"field":"p","type":"quantitative","scale":{"domain":[23926.4,26360],"nice":false,"zero":false},"axis":null},"text":{"field":"t"}}},
{"data":{"values":[{"i":15.36,"p":26305.4,"t":"▼"},{"i":26.19,"p":26302.7,"t":"▼"}]},
 "mark":{"type":"text","font":"DejaVu Sans","fontSize":8,"align":"center","baseline":"middle","color":"#8e959c"},
 "encoding":{"x":{"field":"i","type":"quantitative","scale":{"domain":[-0.857142857,256.285714286],"nice":false,"zero":false},"axis":null},
  "y":{"field":"p","type":"quantitative","scale":{"domain":[23926.4,26360],"nice":false,"zero":false},"axis":null},"text":{"field":"t"}}},
{"data":{"values":[{"i":3.57,"p":24039.0,"t":"SMA [200, 0] 25106.03"},{"i":3.57,"p":23992.6,"t":"SMA [50, 0] 24813.64"},{"i":3.57,"p":23946.3,"t":"SMA [20, 0] 24756.73"}]},
 "mark":{"type":"text","font":"Roboto","fontSize":10.5,"align":"left","baseline":"middle","color":"#666b70"},
 "encoding":{"x":{"field":"i","type":"quantitative","scale":{"domain":[-0.857142857,256.285714286],"nice":false,"zero":false},"axis":null},
  "y":{"field":"p","type":"quantitative","scale":{"domain":[23926.4,26360],"nice":false,"zero":false},"axis":null},"text":{"field":"t"}}},
{"data":{"values":[{"i":0.71,"p":24039.0,"t":"☰"},{"i":0.71,"p":23992.6,"t":"☰"},{"i":0.71,"p":23946.3,"t":"☰"}]},
 "mark":{"type":"text","font":"DejaVu Sans","fontSize":10,"align":"center","baseline":"middle","color":"#9a9a9a"},
 "encoding":{"x":{"field":"i","type":"quantitative","scale":{"domain":[-0.857142857,256.285714286],"nice":false,"zero":false},"axis":null},
  "y":{"field":"p","type":"quantitative","scale":{"domain":[23926.4,26360],"nice":false,"zero":false},"axis":null},"text":{"field":"t"}}},
{"data":{"values":[{"i":2.5,"p":24039.0,"t":"✖"},{"i":2.5,"p":23992.6,"t":"✖"},{"i":2.5,"p":23946.3,"t":"✖"}]},
 "mark":{"type":"text","font":"DejaVu Sans","fontSize":9,"align":"center","baseline":"middle","color":"#a8a8a8"},
 "encoding":{"x":{"field":"i","type":"quantitative","scale":{"domain":[-0.857142857,256.285714286],"nice":false,"zero":false},"axis":null},
  "y":{"field":"p","type":"quantitative","scale":{"domain":[23926.4,26360],"nice":false,"zero":false},"axis":null},"text":{"field":"t"}}},
{"data":{"values":[{"i":247.71,"p":23989.3,"t":"00"},{"i":251.86,"p":23989.3,"t":"18"}]},
 "mark":{"type":"text","font":"Roboto","fontSize":14.5,"align":"left","baseline":"middle","color":"#f7a11a"},
 "encoding":{"x":{"field":"i","type":"quantitative","scale":{"domain":[-0.857142857,256.285714286],"nice":false,"zero":false},"axis":null},
  "y":{"field":"p","type":"quantitative","scale":{"domain":[23926.4,26360],"nice":false,"zero":false},"axis":null},"text":{"field":"t"}}},
{"data":{"values":[{"i":250.0,"p":23989.3,"t":"h"},{"i":254.14,"p":23989.3,"t":"m"}]},
 "mark":{"type":"text","font":"Roboto","fontSize":14.5,"align":"left","baseline":"middle","color":"#b8b8b8"},
 "encoding":{"x":{"field":"i","type":"quantitative","scale":{"domain":[-0.857142857,256.285714286],"nice":false,"zero":false},"axis":null},
  "y":{"field":"p","type":"quantitative","scale":{"domain":[23926.4,26360],"nice":false,"zero":false},"axis":null},"text":{"field":"t"}}}
]
}
